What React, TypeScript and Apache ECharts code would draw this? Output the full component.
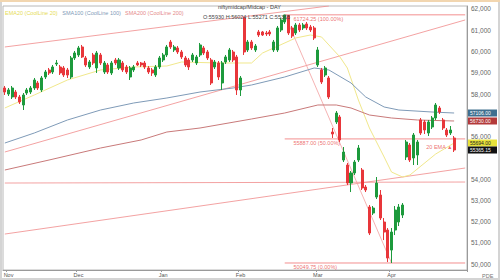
import React, { useEffect, useRef } from "react";
import * as echarts from "echarts";

// ---------- data ----------
const monthNames = ["Nov", "Dec", "Jan", "Feb", "Mar", "Apr"];
const monthStartIdx = [1, 20, 43, 64, 85, 105];
const categoryCount = 126;

// [open, close, low, high]
const ohlc: number[][] = [
  [58283, 58094, 57953, 58377], [58000, 58189, 57906, 58283], [57859, 58283, 57765, 58377],
  [58094, 57859, 57765, 58189], [57859, 57624, 57530, 57953], [57483, 57953, 57247, 58047],
  [58047, 58189, 57953, 58283], [58094, 58283, 58000, 58377], [58283, 58659, 58189, 58753],
  [58518, 58283, 58189, 58612], [58189, 58753, 58094, 58847], [58800, 59036, 58706, 59130],
  [59130, 58989, 58894, 59224], [59036, 59271, 58942, 59365], [59412, 59459, 59318, 59600],
  [59271, 58989, 58894, 59365], [59224, 58894, 58800, 59318], [59130, 58894, 58753, 59224],
  [58800, 59695, 58706, 59789], [59695, 59930, 59600, 60024], [59836, 60165, 59742, 60259],
  [60212, 59742, 59695, 60306], [59695, 59365, 59271, 59789], [59271, 59506, 59177, 59600],
  [59836, 59459, 59365, 59930], [59224, 59930, 58989, 60024], [59836, 59459, 59365, 59930],
  [59036, 59459, 58942, 59553], [59365, 59036, 58942, 59459], [58989, 59459, 58894, 59553],
  [59600, 59459, 59365, 59695], [59224, 59600, 59130, 59695], [59459, 59130, 59036, 59553],
  [59271, 59036, 58942, 59365], [58800, 59224, 58659, 59318], [59130, 59271, 59036, 59365],
  [59459, 59365, 59318, 59553], [59459, 59365, 59271, 59506], [59459, 59271, 59177, 59553],
  [59224, 59036, 58942, 59318], [59130, 58989, 58847, 59224], [58894, 59271, 58800, 59365],
  [59271, 59695, 59177, 59789], [59600, 59836, 59506, 59930], [59836, 60212, 59742, 60306],
  [60447, 60212, 60118, 60542], [60071, 60212, 59977, 60306], [60165, 59977, 59883, 60259],
  [59977, 59742, 59647, 60071], [59695, 59365, 59271, 59789], [59600, 59271, 59130, 59695],
  [59600, 59836, 59506, 59930], [59459, 59742, 59365, 59836], [59836, 60306, 59742, 60400],
  [60165, 59930, 59836, 60259], [59977, 59695, 59600, 60071], [59600, 58518, 58424, 59695],
  [59271, 59506, 59177, 59600], [59459, 58800, 58659, 59553], [58518, 59459, 58189, 59553],
  [59506, 59742, 59412, 59836], [59600, 60071, 59506, 60165], [59977, 59600, 59506, 60071],
  [59742, 58189, 57953, 59836], [58189, 58753, 57906, 58847], [61577, 59977, 59836, 61624],
  [60071, 60447, 59977, 60542], [60447, 60165, 60071, 60542], [60071, 60259, 59977, 60353],
  [60918, 60777, 60683, 61012], [60918, 60777, 60730, 60965], [60871, 60824, 60730, 60965],
  [60918, 60824, 60730, 61012], [60071, 60447, 59977, 60542], [60071, 61106, 59977, 61200],
  [61012, 61483, 60918, 61577], [61389, 61718, 61295, 61724.25], [61690, 60871, 60777, 61700],
  [61106, 60730, 60636, 61200], [60871, 61247, 60777, 61342], [61247, 61012, 60918, 61342],
  [61106, 61247, 61012, 61342], [61295, 61106, 61012, 61389], [61153, 61012, 60918, 61247],
  [61106, 60636, 60542, 61200], [59365, 60071, 59271, 60212], [59130, 58565, 58471, 59224],
  [58894, 59224, 58800, 59318], [58753, 57859, 57765, 58847], [56212, 56118, 55930, 56400],
  [56683, 57106, 56589, 57200], [56918, 55836, 55741, 57012], [54894, 55271, 54800, 55506],
  [54659, 53812, 53718, 54753], [53812, 54283, 53388, 54377], [54283, 54800, 54188, 54894],
  [54894, 55459, 54800, 55600], [54424, 53577, 53483, 54518], [53624, 53483, 53388, 53718],
  [52683, 51459, 51365, 52777], [52400, 52636, 52306, 52730], [53153, 53812, 53059, 54094],
  [53247, 52165, 52071, 53483], [51977, 51506, 51129, 52165], [51600, 50283, 50094, 51694],
  [50659, 51506, 50049.75, 51694], [51600, 52541, 51365, 52730], [51977, 52683, 51788, 52824],
  [52306, 52777, 52165, 52871], [55036, 55741, 54894, 55836], [55600, 54894, 54800, 55694],
  [54989, 56071, 54659, 56165], [55130, 55741, 54659, 55836], [56777, 56165, 56071, 56871],
  [56683, 56306, 56118, 56777], [56165, 56683, 56024, 56777], [56447, 56871, 56353, 56965],
  [56871, 57483, 56777, 57577], [57342, 57153, 57059, 57436], [56777, 56400, 56306, 56871],
  [56306, 56071, 55977, 56400], [56165, 56306, 56071, 56494], [55930, 55365.15, 55271, 56024],
];

// moving averages read at points: [candle index, value]
const ema20Pts = [
  [0, 57342], [8, 57953], [17, 58659], [26, 59130], [35, 59271], [44, 59318], [48, 59506],
  [58, 59459], [67, 59459], [70, 59930], [79, 60636], [83, 60777], [86, 60683], [88, 60306],
  [91, 59742], [93, 59224], [96, 57718], [99, 56400], [103, 55036], [105, 54330], [108, 54094],
  [110, 54188], [113, 54612], [117, 55177], [122, 55694],
];
const ma100Pts = [
  [0, 55694], [8, 56165], [17, 56777], [26, 57247], [35, 57577], [44, 57812], [53, 58094],
  [62, 58283], [67, 58424], [76, 58800], [84, 59224], [88, 59130], [94, 58518], [98, 57859],
  [103, 57389], [107, 57247], [116, 57153], [122, 57106],
];
const ma200Pts = [
  [0, 54424], [12, 54894], [26, 55459], [37, 55836], [44, 56212], [53, 56400], [67, 56824],
  [76, 57106], [85, 57483], [90, 57483], [94, 57342], [99, 57012], [105, 56871], [112, 56777],
  [122, 56730],
];

// hand-drawn trend lines: two end points each [index, price]
const trendLines = [
  [[0, 60212], [88, 62142]],
  [[0, 55271], [125, 61483]],
  [[0, 53812], [125, 53859]],
  [[0, 51412], [125, 54518]],
];
const fibHigh = 61724.25;
const fibMid = 55887.0;
const fibLow = 50049.75;
const fibStartIdx = 76;
const fibLowIdx = 105;
const fibEndIdx = 125;
const emaTagPoint = [118, 55506];

// price-scale labels (57000 and 55000 sit under the value tags)
const yTicks = [50000, 51000, 52000, 53000, 54000, 56000, 58000, 59000, 60000, 61000, 62000];
const legendItems = [
  { text: "EMA20 (CoolLine 20)", color: "#e6dc55" },
  { text: "SMA100 (CoolLine 100)", color: "#7f9bb8" },
  { text: "SMA200 (CoolLine 200)", color: "#e58a8a" },
];

const FONT = "Liberation Sans, Arial, sans-serif";

export default function App() {
  const ref = useRef<HTMLDivElement>(null);
  useEffect(() => {
    document.body.style.margin = "0";
    if (!ref.current) return;
    const chart = echarts.init(ref.current, undefined, { renderer: "svg" });
    const categories = Array.from({ length: categoryCount }, (_, i) => {
      const k = monthStartIdx.indexOf(i);
      return k >= 0 ? monthNames[k] : "";
    });
    const isMonth = (i: number) => monthStartIdx.indexOf(i) >= 0;
    const lineBase = { type: "line", symbol: "none", silent: true, clip: true };

    const series: any[] = [
      {
        type: "candlestick",
        data: ohlc,
        barWidth: "68%",
        itemStyle: {
          color: "#1d9a3c",
          color0: "#e8363a",
          borderColor: "#1d9a3c",
          borderColor0: "#e8363a",
          borderWidth: 1,
        },
        z: 5,
      },
      { ...lineBase, data: ema20Pts, lineStyle: { color: "#f1e88c", width: 1 }, z: 3 },
      { ...lineBase, data: ma100Pts, lineStyle: { color: "#7f9bb8", width: 1 }, z: 3 },
      { ...lineBase, data: ma200Pts, lineStyle: { color: "#c97a7a", width: 1 }, z: 3 },
    ];
    trendLines.forEach((tl) =>
      series.push({ ...lineBase, data: tl, lineStyle: { color: "#f08a8a", width: 0.8 }, z: 2 })
    );
    [fibHigh, fibMid, fibLow].forEach((v) =>
      series.push({
        ...lineBase,
        data: [[fibStartIdx, v], [fibEndIdx, v]],
        lineStyle: { color: "#f07272", width: 0.8 },
        z: 2,
      })
    );
    series.push({
      ...lineBase,
      data: [[fibStartIdx, fibHigh], [fibLowIdx, fibLow]],
      lineStyle: { color: "#f3a0a0", width: 0.8 },
      z: 2,
    });
    const pct = (v: number) => ((v - fibLow) / (fibHigh - fibLow)) * 100;
    series.push({
      type: "scatter",
      symbolSize: 0,
      silent: true,
      data: [fibHigh, fibMid, fibLow].map((v) => ({
        value: [fibStartIdx + 1, v],
        label: {
          show: true,
          position: "right",
          offset: [0, 4],
          formatter: v.toFixed(2) + " (" + pct(v).toFixed(2) + "%)",
        },
      })),
      label: { color: "#e84a4a", fontSize: 5.5, fontFamily: FONT },
      z: 6,
    });
    series.push({
      type: "scatter",
      symbolSize: 0,
      silent: true,
      data: [{ value: emaTagPoint, label: { show: true, position: "inside", formatter: "20 EMA ▲" } }],
      label: { color: "#e84a4a", fontSize: 5.5, fontFamily: FONT },
      z: 6,
    });

    chart.setOption({
      animation: false,
      backgroundColor: "#ffffff",
      grid: { left: 3, right: 33, top: 6, bottom: 10, show: true, borderColor: "#b8b8b8", borderWidth: 1 },
      xAxis: {
        type: "category",
        data: categories,
        boundaryGap: true,
        axisLine: { lineStyle: { color: "#9a9a9a" } },
        axisTick: { show: true, interval: (i: number) => isMonth(i), length: 2, lineStyle: { color: "#9a9a9a" } },
        axisLabel: {
          interval: (i: number) => isMonth(i),
          fontSize: 5.5,
          color: "#555",
          margin: 2,
          fontFamily: FONT,
        },
        splitLine: { show: false },
      },
      yAxis: {
        type: "value",
        position: "right",
        min: 49720,
        max: 62140,
        scale: true,
        axisLine: { show: true, lineStyle: { color: "#9a9a9a" } },
        axisTick: { show: false },
        splitLine: { show: false },
        axisLabel: {
          customValues: yTicks,
          fontSize: 6.5,
          color: "#666",
          margin: 4,
          fontFamily: FONT,
        },
      },
      series,
    });

    // right-axis value tags, placed through the axis scale
    const lastOf = (pts: number[][]) => pts[pts.length - 1][1];
    const tags = [
      { v: lastOf(ma100Pts), bg: "#3f6f8f", fg: "#fff" },
      { v: lastOf(ma200Pts), bg: "#b33a3a", fg: "#fff" },
      { v: lastOf(ema20Pts), bg: "#e8e23a", fg: "#222" },
      { v: ohlc[ohlc.length - 1][1], bg: "#111", fg: "#fff" },
    ];
    const graphics: any[] = [];
    tags.forEach((t) => {
      const y = chart.convertToPixel({ yAxisIndex: 0 }, t.v) as number;
      graphics.push({
        type: "rect",
        shape: { x: 468, y: y - 3.5, width: 29, height: 7 },
        style: { fill: t.bg },
        z: 20,
      });
      graphics.push({
        type: "text",
        x: 470,
        y: y,
        style: { text: t.v.toFixed(2), fill: t.fg, fontSize: 5, fontFamily: FONT, verticalAlign: "middle" },
        z: 21,
      });
    });
    let lx = 5;
    legendItems.forEach((it) => {
      graphics.push({
        type: "text",
        x: lx,
        y: 10,
        style: { text: it.text, fill: it.color, fontSize: 5.5, fontFamily: FONT },
        z: 20,
      });
      lx += it.text.length * 2.75 + 5;
    });
    graphics.push(
      {
        type: "text",
        x: 218,
        y: 4,
        style: { text: "niftymidcap/Midcap - DAY", fill: "#444", fontSize: 5.5, fontFamily: FONT },
        z: 20,
      },
      {
        type: "text",
        x: 203,
        y: 14,
        style: { text: "O:55930 H:56024 L:55271 C:55365", fill: "#444", fontSize: 5.5, fontFamily: FONT },
        z: 20,
      },
      {
        type: "text",
        x: 482,
        y: 273,
        style: { text: "PDE", fill: "#777", fontSize: 5.5, fontFamily: FONT },
        z: 20,
      },
      { type: "rect", shape: { x: 0, y: 0, width: 500, height: 2 }, style: { fill: "#f2d6b0" }, z: 30 },
      {
        type: "rect",
        shape: { x: 1, y: 1, width: 498, height: 278 },
        style: { fill: "none", stroke: "#d4d4d4", lineWidth: 2 },
        z: 29,
      }
    );
    chart.setOption({ graphic: graphics });
    return () => chart.dispose();
  }, []);
  return <div ref={ref} style={{ width: 500, height: 280 }} />;
}
